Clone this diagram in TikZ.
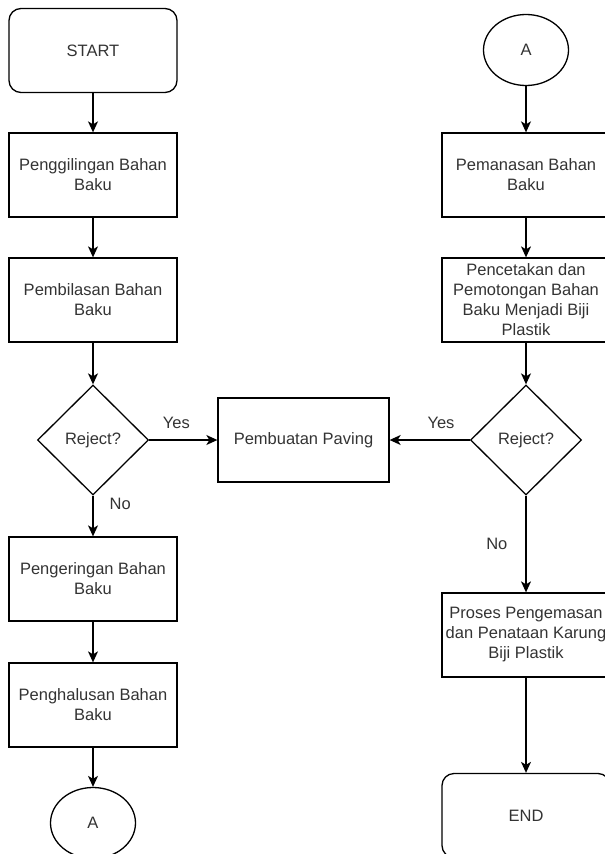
\documentclass[tikz,border=0pt]{standalone}
\usepackage{fontspec}
\setmainfont{Liberation Sans}
\usetikzlibrary{arrows.meta,shapes.geometric}

\tikzset{
  box/.style={draw, rectangle, line width=1.3pt, minimum width=168pt, minimum height=84pt, align=center, inner sep=2pt},
  terminal/.style={box, rounded corners=12pt},
  decision/.style={draw, diamond, line width=1.3pt, minimum width=111pt, minimum height=110pt, inner sep=0pt},
  connector/.style={draw, ellipse, line width=1.3pt, minimum width=85pt, minimum height=71pt, inner sep=0pt},
  flow/.style={line width=1.3pt, -{Stealth[length=11pt,width=10pt,inset=3pt]}},
  lbl/.style={inner sep=2pt}
}

\begin{document}
\begin{tikzpicture}[x=1pt,y=-1pt,font=\fontsize{16.5}{20}\selectfont,text=black!80]
\useasboundingbox (0,0) rectangle (605,854);

% left column
\node[terminal] (start) at (93,50.5) {START};
\node[box] (giling) at (93,175) {Penggilingan Bahan\\Baku};
\node[box] (bilas) at (93,300) {Pembilasan Bahan\\Baku};
\node[decision] (reject1) at (93,440) {Reject?};
\node[box] (kering) at (93,579) {Pengeringan Bahan\\Baku};
\node[box] (halus) at (93,705) {Penghalusan Bahan\\Baku};
\node[connector] (conA1) at (93,823) {A};

% middle
\node[box, minimum width=171pt] (paving) at (303.5,440) {Pembuatan Paving};

% right column
\node[connector] (conA2) at (526,50) {A};
\node[box] (panas) at (526,175) {Pemanasan Bahan\\Baku};
\node[box] (cetak) at (526,300) {Pencetakan dan\\Pemotongan Bahan\\Baku Menjadi Biji\\Plastik};
\node[decision] (reject2) at (526,440) {Reject?};
\node[box] (kemas) at (526,635) {Proses Pengemasan\\dan Penataan Karung\\Biji Plastik};
\node[terminal] (end) at (526,815.5) {END};

% arrows
\draw[flow] (start) -- (giling);
\draw[flow] (giling) -- (bilas);
\draw[flow] (bilas) -- (reject1);
\draw[flow] (reject1) -- (kering)
  node[lbl, pos=0, anchor=north west, xshift=14pt] (no1) {No};
\draw[flow] (kering) -- (halus);
\draw[flow] (halus) -- (conA1);
\draw[flow] (reject1) -- (paving)
  node[lbl, pos=0.4, above=9pt] (yes1) {Yes};

\draw[flow] (conA2) -- (panas);
\draw[flow] (panas) -- (cetak);
\draw[flow] (cetak) -- (reject2);
\draw[flow] (reject2) -- (paving)
  node[lbl, pos=0.36, above=9pt] (yes2) {Yes};
\draw[flow] (reject2) -- (kemas)
  node[lbl, midway, left=16pt] (no2) {No};
\draw[flow] (kemas) -- (end);
\end{tikzpicture}
\end{document}
